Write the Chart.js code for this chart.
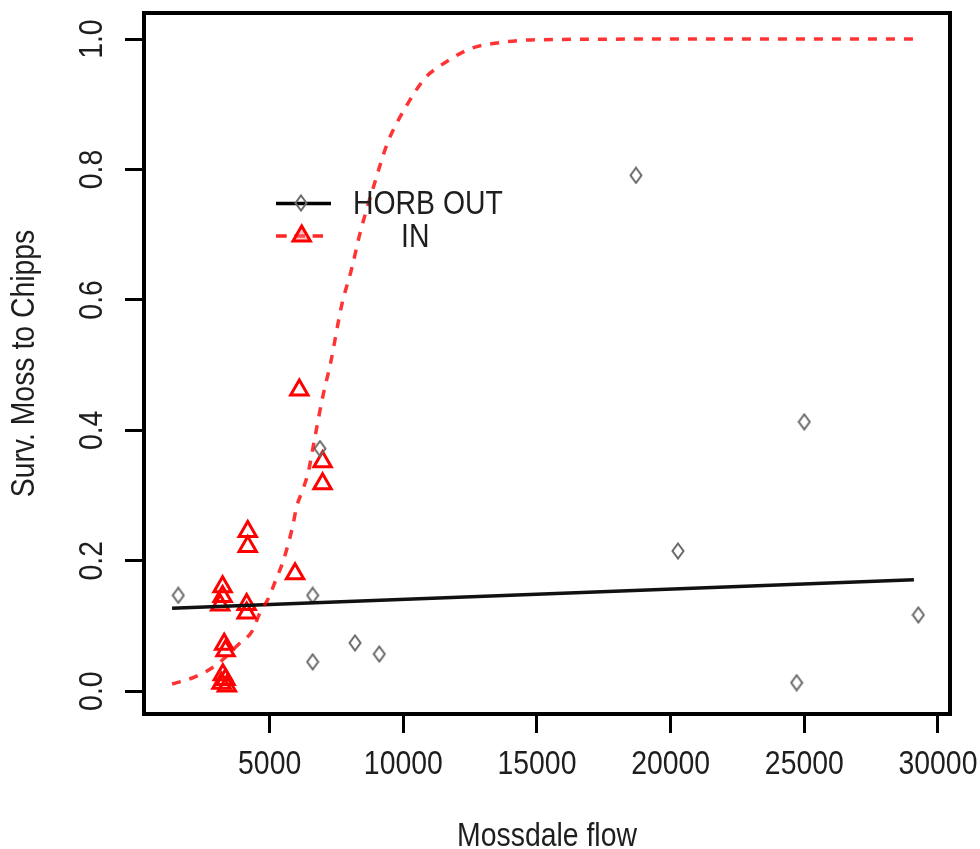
<!DOCTYPE html>
<html>
<head>
<meta charset="utf-8">
<script src="https://cdn.jsdelivr.net/npm/chart.js@4.4.1/dist/chart.umd.min.js"></script>
<style>
html,body{margin:0;padding:0;background:#fff;}
#wrap{position:relative;width:980px;height:849px;}
</style>
</head>
<body>
<div id="wrap"><canvas id="c" width="980" height="849"></canvas></div>
<script>
// ---- data ----
const outFlow = [1583, 6609, 6609, 6883, 8193, 9102, 18704, 20275, 24715, 25000, 29265];
const outSurv = [0.147, 0.147, 0.045, 0.372, 0.074, 0.057, 0.791, 0.215, 0.013, 0.413, 0.117];

const inFlow = [3240, 3240, 3150, 4140, 4140, 3300, 3350, 3250, 3350, 3200, 3400, 4180, 4180, 5950, 6110, 6980, 6980];
const inSurv = [0.160, 0.145, 0.132, 0.133, 0.120, 0.072, 0.062, 0.025, 0.018, 0.012, 0.008, 0.245, 0.222, 0.180, 0.462, 0.352, 0.318];

const outFitFlow = [1350, 29100];
const outFitSurv = [0.127, 0.171];

const inFitFlow = [1350, 2207, 3000, 3890, 4328, 4638, 4950, 5226, 5510, 5862, 6011, 6258, 6445, 6696, 6983, 7283, 7695, 8069, 8379, 8978, 9402, 10025, 10811, 11346, 12557, 13500, 15000, 20000, 25000, 29100];
const inFitSurv = [0.011, 0.022, 0.040, 0.074, 0.091, 0.120, 0.142, 0.170, 0.200, 0.253, 0.283, 0.311, 0.336, 0.390, 0.451, 0.504, 0.592, 0.648, 0.702, 0.786, 0.840, 0.891, 0.940, 0.958, 0.986, 0.994, 0.999, 1.000, 1.000, 1.000];

const xTicks = [5000, 10000, 15000, 20000, 25000, 30000];
const yTicks = [0, 0.2, 0.4, 0.6, 0.8, 1.0];
const yTickLabels = ['0.0', '0.2', '0.4', '0.6', '0.8', '1.0'];
const legendLabels = ['HORB OUT', 'IN'];
const xTitle = 'Mossdale flow';
const yTitle = 'Surv. Moss to Chipps';

// ---- styling ----
const FONT = "'Liberation Sans', Arial, sans-serif";
const TXT = '#1e1e1e';
const SQUEEZE = 0.86; // reference text is horizontally narrow

const canvas = document.getElementById('c');
const ctx0 = canvas.getContext('2d');
const nativeFill = ctx0.fillText;
ctx0.fillText = function (t, x, y, mw) {
  const w = this.measureText(t).width * SQUEEZE;
  return nativeFill.call(this, t, x, y, (mw !== undefined && mw !== null) ? Math.min(mw, w) : w);
};

function makeDiamond() {
  const c = document.createElement('canvas');
  c.width = 14; c.height = 18;
  const g = c.getContext('2d');
  g.strokeStyle = '#6a6a6a';
  g.lineWidth = 2;
  g.beginPath();
  g.moveTo(7, 1.5); g.lineTo(12.5, 9); g.lineTo(7, 16.5); g.lineTo(1.5, 9); g.closePath();
  g.stroke();
  return c;
}
const diamondImg = makeDiamond();

const toPts = (xs, ys) => xs.map((x, i) => ({x: x, y: ys[i]}));

const boxPlugin = {
  id: 'rbox',
  afterDraw(chart) {
    const {ctx, chartArea: a} = chart;
    ctx.save();
    ctx.strokeStyle = '#000';
    ctx.lineWidth = 4;
    ctx.strokeRect(a.left, a.top, a.right - a.left, a.bottom - a.top);
    ctx.restore();
  }
};

const legendPlugin = {
  id: 'rlegend',
  afterDatasetsDraw(chart) {
    const ctx = chart.ctx;
    ctx.save();
    ctx.strokeStyle = '#000';
    ctx.lineWidth = 3.5;
    ctx.beginPath(); ctx.moveTo(276, 203.5); ctx.lineTo(331, 203.5); ctx.stroke();
    ctx.drawImage(diamondImg, 301 - 7, 203 - 9);
    ctx.strokeStyle = 'rgba(255,0,0,0.85)';
    ctx.lineWidth = 3.5;
    ctx.setLineDash([10.7, 7.6]);
    ctx.beginPath(); ctx.moveTo(276, 236); ctx.lineTo(323, 236); ctx.stroke();
    ctx.setLineDash([]);
    const r = 10, cx = 301.7, cy = 236;
    ctx.lineWidth = 3;
    ctx.strokeStyle = '#ff0000';
    ctx.fillStyle = 'rgba(255,120,120,0.45)';
    ctx.beginPath();
    ctx.moveTo(cx, cy - r);
    ctx.lineTo(cx + r * Math.sin(Math.PI / 3), cy + r * Math.cos(Math.PI / 3));
    ctx.lineTo(cx - r * Math.sin(Math.PI / 3), cy + r * Math.cos(Math.PI / 3));
    ctx.closePath();
    ctx.fill(); ctx.stroke();
    ctx.fillStyle = TXT;
    ctx.font = "33px " + FONT;
    ctx.textBaseline = 'alphabetic';
    ctx.textAlign = 'left';
    ctx.fillText(legendLabels[0], 353, 213.5);
    ctx.fillText(legendLabels[1], 401, 246.5);
    ctx.restore();
  }
};

function zeroPad(s) {
  s.paddingLeft = 0; s.paddingRight = 0; s.paddingTop = 0; s.paddingBottom = 0;
}

new Chart(canvas, {
  type: 'scatter',
  data: {
    datasets: [
      {
        label: legendLabels[0],
        data: toPts(outFlow, outSurv),
        pointStyle: diamondImg,
        pointRadius: 7,
        showLine: false,
        order: 2
      },
      {
        label: legendLabels[0] + ' fit',
        data: toPts(outFitFlow, outFitSurv),
        showLine: true,
        borderColor: '#111',
        borderWidth: 3.5,
        pointRadius: 0,
        order: 1
      },
      {
        label: legendLabels[1],
        data: toPts(inFlow, inSurv),
        pointStyle: 'triangle',
        pointRadius: 10,
        borderColor: '#ff0000',
        backgroundColor: 'rgba(255,0,0,0.0)',
        borderWidth: 3,
        showLine: false,
        order: 3
      },
      {
        label: legendLabels[1] + ' fit',
        data: toPts(inFitFlow, inFitSurv),
        showLine: true,
        borderColor: 'rgba(255,0,0,0.8)',
        borderWidth: 3.5,
        borderDash: [9, 9],
        cubicInterpolationMode: 'monotone',
        pointRadius: 0,
        order: 0
      }
    ]
  },
  options: {
    responsive: false,
    animation: false,
    devicePixelRatio: 1,
    layout: {padding: {top: 12.7, right: 30, bottom: 0, left: 0}},
    plugins: {
      legend: {display: false},
      tooltip: {enabled: false}
    },
    scales: {
      x: {
        type: 'linear',
        min: 300,
        max: 30450,
        afterBuildTicks: (s) => { s.ticks = xTicks.map(v => ({value: v})); },
        afterFit: (s) => { s.height = 135; zeroPad(s); },
        ticks: {
          autoSkip: false,
          maxRotation: 0,
          minRotation: 0,
          padding: 12,
          color: TXT,
          font: {family: FONT, size: 33, lineHeight: 1.2},
          callback: (v) => String(v)
        },
        grid: {
          display: true,
          drawOnChartArea: false,
          drawTicks: true,
          tickLength: 19,
          tickWidth: 3,
          tickColor: '#000'
        },
        border: {display: false},
        title: {
          display: true,
          text: xTitle,
          color: TXT,
          font: {family: FONT, size: 33, lineHeight: 1.0},
          padding: {top: 0, bottom: -4}
        }
      },
      y: {
        type: 'linear',
        min: -0.035,
        max: 1.040,
        afterBuildTicks: (s) => { s.ticks = yTicks.map(v => ({value: v})); },
        afterFit: (s) => { s.width = 144; zeroPad(s); },
        ticks: {
          autoSkip: false,
          minRotation: 90,
          maxRotation: 90,
          crossAlign: 'center',
          padding: 9,
          color: TXT,
          font: {family: FONT, size: 33, lineHeight: 1.2},
          callback: (v, i) => yTickLabels[i]
        },
        grid: {
          display: true,
          drawOnChartArea: false,
          drawTicks: true,
          tickLength: 19,
          tickWidth: 3,
          tickColor: '#000'
        },
        border: {display: false},
        title: {
          display: true,
          text: yTitle,
          color: TXT,
          font: {family: FONT, size: 33, lineHeight: 1.2},
          padding: {top: 5, bottom: 0}
        }
      }
    }
  },
  plugins: [legendPlugin, boxPlugin]
});
</script>
</body>
</html>
